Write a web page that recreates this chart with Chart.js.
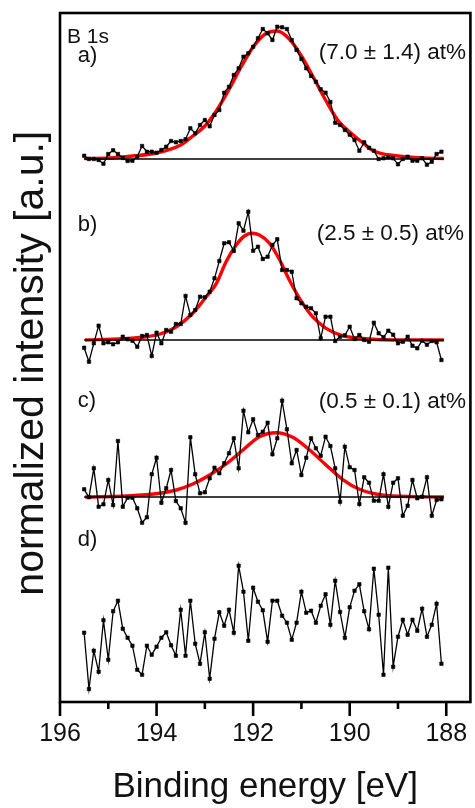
<!DOCTYPE html>
<html>
<head>
<meta charset="utf-8">
<script src="https://cdn.jsdelivr.net/npm/chart.js@4/dist/chart.umd.min.js"></script>
<style>
  html, body { margin: 0; padding: 0; background: #fff; }
  canvas { display: block; }
</style>
</head>
<body>
<canvas id="xps" width="475" height="808"></canvas>
<script>
// binding energy of every measured point [eV]
const energies = [
  195.5, 195.4, 195.3, 195.2, 195.1, 195.0, 194.9, 194.8, 194.7, 194.6,
  194.5, 194.4, 194.3, 194.2, 194.1, 194.0, 193.9, 193.8, 193.7, 193.6,
  193.5, 193.4, 193.3, 193.2, 193.1, 193.0, 192.9, 192.8, 192.7, 192.6,
  192.5, 192.4, 192.3, 192.2, 192.1, 192.0, 191.9, 191.8, 191.7, 191.6,
  191.5, 191.4, 191.3, 191.2, 191.1, 191.0, 190.9, 190.8, 190.7, 190.6,
  190.5, 190.4, 190.3, 190.2, 190.1, 190.0, 189.9, 189.8, 189.7, 189.6,
  189.5, 189.4, 189.3, 189.2, 189.1, 189.0, 188.9, 188.8, 188.7, 188.6,
  188.5, 188.4, 188.3, 188.2, 188.1
];

// stacked intensities (a.u.)
const spectrumA = [
  54.63, 54.30, 54.30, 54.20, 53.83, 54.80, 55.17, 54.80, 54.40, 54.10,
  54.13, 54.53, 55.60, 55.03, 55.03, 54.93, 55.20, 55.53, 56.10, 55.97,
  56.10, 56.27, 57.37, 56.87, 57.70, 58.20, 57.57, 58.70, 59.20, 60.93,
  61.53, 62.70, 63.37, 64.53, 64.87, 65.53, 66.37, 67.30, 66.87, 66.20,
  67.53, 67.47, 67.30, 66.20, 65.20, 64.30, 63.37, 62.60, 62.03, 61.27,
  60.93, 60.00, 57.93, 57.70, 57.20, 56.73, 56.20, 55.13, 55.97, 55.43,
  55.13, 54.30, 54.37, 54.47, 54.37, 53.77, 54.30, 54.53, 54.13, 54.13,
  54.37, 53.73, 54.03, 54.80, 55.03
];
const spectrumB = [
  35.43, 34.03, 35.87, 37.63, 35.87, 35.97, 35.77, 35.97, 36.53, 36.27,
  36.13, 35.53, 36.60, 36.70, 34.60, 36.93, 35.87, 37.20, 37.03, 37.80,
  37.80, 40.60, 38.70, 39.20, 40.53, 40.47, 41.03, 42.37, 44.10, 45.87,
  45.97, 45.10, 47.87, 47.13, 49.03, 45.13, 45.53, 44.30, 44.53, 45.70,
  46.27, 43.20, 43.20, 43.03, 40.37, 39.87, 39.53, 39.37, 38.87, 36.37,
  38.53, 38.53, 36.10, 36.53, 36.67, 37.53, 36.30, 36.70, 36.20, 36.03,
  37.93, 36.87, 36.47, 37.13, 36.73, 35.87, 36.03, 36.53, 35.63, 35.37,
  36.13, 35.73, 36.10, 35.97, 34.20
];
const spectrumC = [
  21.27, 20.47, 23.37, 19.53, 19.77, 22.20, 19.70, 26.10, 19.53, 20.43,
  20.43, 19.37, 17.93, 18.47, 22.77, 24.43, 19.93, 21.37, 23.20, 20.10,
  19.37, 17.93, 26.47, 22.77, 20.87, 20.97, 22.37, 23.43, 22.87, 23.87,
  24.87, 26.37, 23.37, 29.13, 26.97, 28.27, 26.70, 27.03, 27.93, 24.77,
  26.37, 30.13, 27.27, 23.87, 25.20, 22.70, 24.43, 26.37, 25.37, 24.63,
  26.53, 25.60, 23.37, 20.03, 25.53, 23.47, 23.20, 19.80, 22.47, 21.93,
  20.13, 20.13, 22.77, 19.53, 21.93, 22.37, 18.63, 19.63, 22.20, 20.37,
  20.53, 22.47, 18.63, 20.20, 20.27
];
const spectrumD = [
  6.93, 1.30, 5.13, 3.03, 8.17, 4.23, 9.07, 10.13, 7.33, 6.43,
  5.63, 3.23, 2.73, 5.63, 4.73, 5.53, 6.43, 6.97, 5.67, 4.63,
  9.23, 4.63, 10.13, 5.83, 3.83, 6.97, 2.33, 6.33, 8.97, 7.63,
  9.23, 6.93, 13.63, 11.03, 6.13, 11.43, 10.03, 9.17, 6.03, 10.13,
  10.13, 8.63, 7.93, 6.23, 7.93, 11.03, 8.93, 9.13, 7.93, 9.63,
  10.77, 7.73, 12.13, 9.00, 6.43, 9.47, 11.13, 11.77, 9.07, 7.27,
  13.33, 8.73, 2.73, 13.43, 3.53, 6.53, 8.23, 6.73, 8.23, 7.13,
  9.33, 6.53, 7.73, 9.83, 3.83
];

// fitted peaks (red)
const fitEnergiesA = [195.5, 195.0, 194.5, 194.0, 193.5, 193.25, 193.0, 192.75, 192.5, 192.25, 192.0, 191.75,
  191.5, 191.25, 191.0, 190.75, 190.5, 190.25, 190.0, 189.75, 189.5, 189.0, 188.5, 188.05];
const fitA = [54.35, 54.4, 54.6, 54.9, 55.7, 56.6, 57.6, 59.2, 61.25, 63.5, 65.5, 66.8,
  67.1, 66.3, 64.6, 62.45, 60.2, 58.2, 57.0, 56.0, 55.1, 54.6, 54.4, 54.35];
const fitEnergiesB = [195.48, 194.69, 194.21, 193.93, 193.59, 193.25, 192.97, 192.76, 192.56, 192.35, 192.18, 192.02,
  191.87, 191.66, 191.45, 191.25, 191.04, 190.77, 190.49, 190.15, 189.80, 189.11, 188.05];
const fitB = [36.2, 36.33, 36.53, 36.8, 37.53, 38.87, 40.53, 41.87, 44.03, 45.7, 46.6, 46.87,
  46.7, 45.87, 44.2, 42.2, 40.37, 38.53, 37.37, 36.63, 36.37, 36.2, 36.2];
const fitEnergiesC = [195.48, 194.62, 193.93, 193.59, 193.25, 192.90, 192.56, 192.21, 191.87, 191.52, 191.18,
  190.83, 190.49, 190.15, 189.80, 189.46, 189.11, 188.05];
const fitC = [20.5, 20.6, 20.87, 21.2, 21.8, 22.7, 23.8, 25.2, 26.53, 26.93, 26.47,
  25.2, 23.7, 22.27, 21.27, 20.8, 20.6, 20.5];

// zero lines under spectra a, b, c
const baselines = [54.3, 36.2, 20.5];
const baselineSpan = [195.5, 188.05];

const xTicks = [196, 194, 192, 190, 188];
const xMinorTicks = [195, 193, 191, 189];

const fontFamily = '"Liberation Sans", Arial, Helvetica, sans-serif';

// text drawn inside the frame, placed with the chart's scales
const notes = [
  { text: 'B 1s', x: 195.855, y: 65.9, align: 'left', size: 21 },
  { text: 'a)', x: 195.63, y: 64.0, align: 'left', size: 22 },
  { text: '(7.0 \u00b1 1.4) at%', x: 187.59, y: 64.3, align: 'right', size: 22.5 },
  { text: 'b)', x: 195.63, y: 47.15, align: 'left', size: 22 },
  { text: '(2.5 \u00b1 0.5) at%', x: 187.63, y: 46.2, align: 'right', size: 22.5 },
  { text: 'c)', x: 195.63, y: 29.5, align: 'left', size: 22 },
  { text: '(0.5 \u00b1 0.1) at%', x: 187.59, y: 29.4, align: 'right', size: 22.5 },
  { text: 'd)', x: 195.63, y: 15.6, align: 'left', size: 22 }
];

const toPoints = (xs, ys) => xs.map((x, i) => ({ x: x, y: ys[i] }));

const spectrumStyle = {
  borderColor: '#000',
  borderWidth: 1.3,
  pointStyle: 'rect',
  pointRadius: 2.4,
  pointBorderWidth: 0.6,
  pointBackgroundColor: '#000',
  pointBorderColor: '#000',
  tension: 0,
  order: 0
};
const fitStyle = {
  borderColor: '#ff0000',
  borderWidth: 3.4,
  pointRadius: 0,
  cubicInterpolationMode: 'monotone',
  order: 2
};
const baseStyle = {
  borderColor: '#000',
  borderWidth: 1.3,
  pointRadius: 0,
  order: 1
};

const datasets = [
  Object.assign({ label: 'a', data: toPoints(energies, spectrumA) }, spectrumStyle),
  Object.assign({ label: 'b', data: toPoints(energies, spectrumB) }, spectrumStyle),
  Object.assign({ label: 'c', data: toPoints(energies, spectrumC) }, spectrumStyle),
  Object.assign({ label: 'd', data: toPoints(energies, spectrumD) }, spectrumStyle),
  Object.assign({ label: 'fit a', data: toPoints(fitEnergiesA, fitA) }, fitStyle),
  Object.assign({ label: 'fit b', data: toPoints(fitEnergiesB, fitB) }, fitStyle),
  Object.assign({ label: 'fit c', data: toPoints(fitEnergiesC, fitC) }, fitStyle)
];
baselines.forEach((b, i) => {
  datasets.push(Object.assign({ label: 'base ' + i, data: baselineSpan.map(x => ({ x: x, y: b })) }, baseStyle));
});

// frame around the plot and outward ticks on the energy axis
const framePlugin = {
  id: 'frame',
  afterDraw(chart) {
    const { ctx, chartArea: a, scales } = chart;
    ctx.save();
    ctx.strokeStyle = '#000';
    ctx.lineWidth = 2.6;
    ctx.strokeRect(a.left, a.top, a.right - a.left, a.bottom - a.top);
    const tick = (v, len) => {
      const px = scales.x.getPixelForValue(v);
      ctx.beginPath();
      ctx.moveTo(px, a.bottom);
      ctx.lineTo(px, a.bottom + len);
      ctx.stroke();
    };
    xTicks.forEach(v => tick(v, 14));
    xMinorTicks.forEach(v => tick(v, 7));
    ctx.restore();
  }
};

const notesPlugin = {
  id: 'notes',
  afterDatasetsDraw(chart) {
    const { ctx, scales } = chart;
    ctx.save();
    ctx.fillStyle = '#111';
    ctx.textBaseline = 'alphabetic';
    notes.forEach(n => {
      ctx.font = n.size + 'px ' + fontFamily;
      ctx.textAlign = n.align;
      ctx.fillText(n.text, scales.x.getPixelForValue(n.x), scales.y.getPixelForValue(n.y));
    });
    ctx.restore();
  }
};

new Chart(document.getElementById('xps'), {
  type: 'line',
  data: { datasets: datasets },
  options: {
    responsive: false,
    animation: false,
    devicePixelRatio: 1,
    layout: { padding: { top: 13, right: 4, left: 0, bottom: 0 } },
    plugins: { legend: { display: false }, tooltip: { enabled: false } },
    scales: {
      x: {
        type: 'linear',
        reverse: true,
        min: 187.5,
        max: 196,
        grid: { display: false, drawTicks: false },
        border: { display: false },
        afterBuildTicks: scale => { scale.ticks = xTicks.map(v => ({ value: v })); },
        afterFit: scale => {
          scale.height = 106;
          scale.paddingLeft = 0;
          scale.paddingRight = 0;
        },
        ticks: {
          color: '#111',
          padding: 17,
          maxRotation: 0,
          autoSkip: false,
          font: { family: fontFamily, size: 25 },
          callback: v => String(v)
        },
        title: {
          display: true,
          text: 'Binding energy [eV]',
          color: '#111',
          font: { family: fontFamily, size: 35 },
          padding: { top: 0, bottom: 0 }
        }
      },
      y: {
        type: 'linear',
        min: 0,
        max: 68.9,
        grid: { display: false, drawTicks: false },
        border: { display: false },
        ticks: { display: false },
        afterFit: scale => {
          scale.width = 60;
          scale.paddingTop = 0;
          scale.paddingBottom = 0;
        },
        title: {
          display: true,
          text: 'normalized intensity [a.u.] ',
          color: '#111',
          font: { family: fontFamily, size: 41 },
          padding: { top: 7, bottom: 0 }
        }
      }
    }
  },
  plugins: [framePlugin, notesPlugin]
});
</script>
</body>
</html>
